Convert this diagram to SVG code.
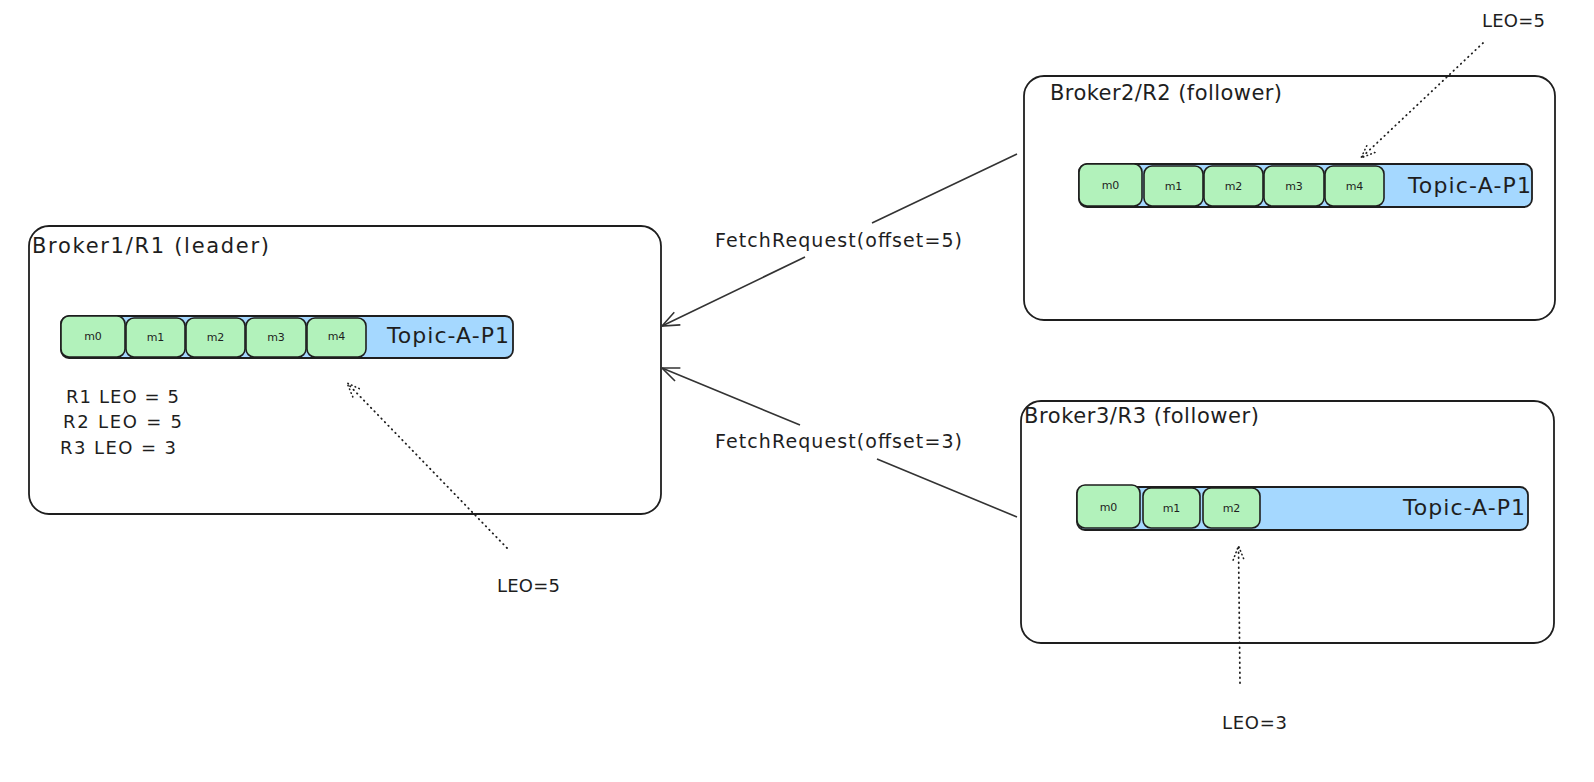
<svg xmlns="http://www.w3.org/2000/svg" width="1594" height="782" viewBox="0 0 1594 782">
<style>
.box{fill:#ffffff;stroke:#1e1e1e;stroke-width:1.8}
.bar{fill:#a5d8ff;stroke:#1e1e1e;stroke-width:1.8}
.cell{fill:#b2f2bb;stroke:#1e1e1e;stroke-width:1.6}
.t{font-family:"DejaVu Sans","Liberation Sans",sans-serif;fill:#1e1e1e}
.title{font-size:21px}
.topic{font-size:22px}
.cl{font-size:11px;text-anchor:middle}
.lbl{font-size:18px}
.req{font-size:19px}
.conn{fill:none;stroke:#333333;stroke-width:1.6}
.dot{fill:none;stroke:#1e1e1e;stroke-width:1.8;stroke-dasharray:0.5 4.5;stroke-linecap:round}
</style>
<defs>
<marker id="arr" viewBox="0 0 20 20" refX="18" refY="10" markerWidth="20" markerHeight="20" markerUnits="userSpaceOnUse" orient="auto">
<path d="M1,3 L18,10 L1,17" fill="none" stroke="#333333" stroke-width="1.6"/>
</marker>
<marker id="darr" viewBox="0 0 16 16" refX="15" refY="8" markerWidth="16" markerHeight="16" markerUnits="userSpaceOnUse" orient="auto">
<path d="M1,2.5 L15,8 L1,13.5" fill="none" stroke="#1e1e1e" stroke-width="1.6" stroke-dasharray="0.5 3.5" stroke-linecap="round"/>
</marker>
</defs>
<rect width="1594" height="782" fill="#ffffff"/>

<g id="broker1">
<rect class="box" x="29" y="226" width="632" height="288" rx="20"/>
<text class="t title" x="32" y="253" textLength="237">Broker1/R1 (leader)</text>
<rect class="bar" x="61" y="316" width="452" height="42" rx="8"/>
<rect class="cell" x="61" y="316" width="64" height="41" rx="8"/>
<rect class="cell" x="126" y="318" width="59" height="39" rx="8"/>
<rect class="cell" x="186" y="318" width="59" height="39" rx="8"/>
<rect class="cell" x="246" y="318" width="60" height="39" rx="8"/>
<rect class="cell" x="307" y="318" width="59" height="39" rx="8"/>
<text class="t cl" x="93" y="340">m0</text>
<text class="t cl" x="155.5" y="341">m1</text>
<text class="t cl" x="215.5" y="341">m2</text>
<text class="t cl" x="276" y="341">m3</text>
<text class="t cl" x="336.5" y="340">m4</text>
<text class="t topic" x="387" y="343" textLength="122">Topic-A-P1</text>
<text class="t lbl" x="66" y="403" textLength="113">R1 LEO = 5</text>
<text class="t lbl" x="63" y="428" textLength="119">R2 LEO = 5</text>
<text class="t lbl" x="60" y="454" textLength="116">R3 LEO = 3</text>
</g>

<g id="broker2">
<rect class="box" x="1024" y="76" width="531" height="244" rx="20"/>
<text class="t title" x="1050" y="100" textLength="232">Broker2/R2 (follower)</text>
<rect class="bar" x="1079" y="164" width="453" height="43" rx="8"/>
<rect class="cell" x="1079" y="164" width="63" height="42" rx="8"/>
<rect class="cell" x="1144" y="166" width="59" height="40" rx="8"/>
<rect class="cell" x="1204" y="166" width="59" height="40" rx="8"/>
<rect class="cell" x="1264" y="166" width="60" height="40" rx="8"/>
<rect class="cell" x="1325" y="166" width="59" height="40" rx="8"/>
<text class="t cl" x="1110.5" y="189">m0</text>
<text class="t cl" x="1173.5" y="190">m1</text>
<text class="t cl" x="1233.5" y="190">m2</text>
<text class="t cl" x="1294" y="190">m3</text>
<text class="t cl" x="1354.5" y="190">m4</text>
<text class="t topic" x="1408" y="193" textLength="123">Topic-A-P1</text>
</g>

<g id="broker3">
<rect class="box" x="1021" y="401" width="533" height="242" rx="20"/>
<text class="t title" x="1024" y="423" textLength="235">Broker3/R3 (follower)</text>
<rect class="bar" x="1077" y="487" width="451" height="43" rx="8"/>
<rect class="cell" x="1077" y="485" width="63" height="43" rx="8"/>
<rect class="cell" x="1143" y="488" width="57" height="40" rx="8"/>
<rect class="cell" x="1203" y="488" width="57" height="40" rx="8"/>
<text class="t cl" x="1108.5" y="511">m0</text>
<text class="t cl" x="1171.5" y="512">m1</text>
<text class="t cl" x="1231.5" y="512">m2</text>
<text class="t topic" x="1403" y="515" textLength="122">Topic-A-P1</text>
</g>

<g id="connectors">
<path class="conn" d="M1017,154 L872,223 M805,257 L662,326" marker-end="url(#arr)"/>
<text class="t req" x="715" y="247" textLength="247">FetchRequest(offset=5)</text>
<path class="conn" d="M1017,517 L877,459 M800,425 L662,368" marker-end="url(#arr)"/>
<text class="t req" x="715" y="448" textLength="247">FetchRequest(offset=3)</text>
<path class="dot" d="M507,548 L347,383" marker-end="url(#darr)"/>
<path class="dot" d="M1483,43 L1361,158" marker-end="url(#darr)"/>
<path class="dot" d="M1240,683 L1238.5,546" marker-end="url(#darr)"/>
</g>

<g id="leo-labels">
<text class="t lbl" x="497" y="592" textLength="63">LEO=5</text>
<text class="t lbl" x="1482" y="27" textLength="63">LEO=5</text>
<text class="t lbl" x="1222" y="729" textLength="65">LEO=3</text>
</g>
</svg>
